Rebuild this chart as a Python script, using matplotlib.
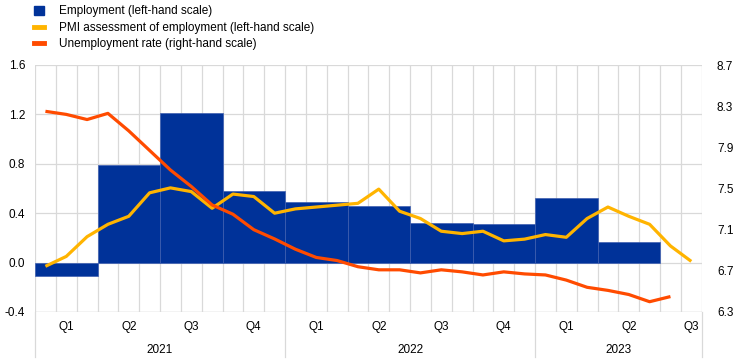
import matplotlib
matplotlib.use('Agg')
import matplotlib.pyplot as plt
import matplotlib.transforms as mtransforms
from matplotlib.patches import Patch
from matplotlib.lines import Line2D

plt.rcParams['font.family'] = ['Liberation Sans', 'DejaVu Sans']

# quarterly employment growth, 2021 Q1 - 2023 Q2 (left-hand scale)
employment = [-0.11, 0.79, 1.21, 0.58, 0.49, 0.46, 0.32, 0.31, 0.52, 0.17]
# monthly PMI assessment of employment, Jan 2021 - Aug 2023 (left-hand scale)
pmi = [-0.03, 0.05, 0.21, 0.31, 0.375, 0.565, 0.605, 0.575, 0.44, 0.555, 0.535, 0.40,
       0.435, 0.45, 0.465, 0.48, 0.595, 0.416, 0.357, 0.254, 0.235, 0.254, 0.176, 0.19,
       0.227, 0.205, 0.357, 0.45, 0.375, 0.31, 0.135, 0.01]
# monthly unemployment rate, Jan 2021 - Jul 2023 (right-hand scale)
unemployment = [8.25, 8.22, 8.17, 8.23, 8.06, 7.87, 7.68, 7.52, 7.34, 7.25, 7.10, 7.01,
                6.91, 6.83, 6.80, 6.74, 6.71, 6.71, 6.68, 6.71, 6.69, 6.66, 6.69, 6.67,
                6.66, 6.61, 6.54, 6.51, 6.47, 6.40, 6.45]
quarter_labels = ['Q1', 'Q2', 'Q3', 'Q4'] * 2 + ['Q1', 'Q2', 'Q3']
years = ['2021', '2022', '2023']

blue = '#003299'
yellow = '#ffb400'
orange = '#ff4b00'
grid = '#d9d9d9'
n_months = 32

fig = plt.figure(figsize=(7.44, 3.61), dpi=100)
ax = fig.add_axes([35 / 744, 1 - 312 / 361, (701.7 - 35) / 744, 247 / 361])

# bars span whole quarters, lines sit mid-month
bar_x = [3 * i for i in range(len(employment))]
ax.bar(bar_x, employment, width=3, align='edge', color=blue,
       edgecolor='#3f5fb0', linewidth=0.5, zorder=2)
ax.plot([m + 0.5 for m in range(len(pmi))], pmi, color=yellow, lw=2.3,
        solid_capstyle='butt', zorder=3)

ax.set_xlim(0, n_months)
ax.set_ylim(-0.4, 1.6)
ax.set_yticks([-0.4, 0.0, 0.4, 0.8, 1.2, 1.6])
ax.set_yticklabels(['-0.4', '0.0', '0.4', '0.8', '1.2', '1.6'])
ax.set_xticks(range(0, n_months + 1))
ax.set_xticklabels([])
ax.grid(True, color=grid, lw=0.9, zorder=0)
ax.set_axisbelow(True)
ax.tick_params(length=0, labelsize=8.5, pad=7, colors='#000000')
for s in ax.spines.values():
    s.set_visible(False)
ax.axhline(-0.4, color=grid, lw=1.0, zorder=1)

ax2 = ax.twinx()
ax2.plot([m + 0.5 for m in range(len(unemployment))], unemployment, color=orange,
         lw=2.3, solid_capstyle='butt', zorder=4)
ax2.set_ylim(6.3, 8.7)
ax2.set_yticks([6.3, 6.7, 7.1, 7.5, 7.9, 8.3, 8.7])
ax2.set_yticklabels(['6.3', '6.7', '7.1', '7.5', '7.9', '8.3', '8.7'])
ax2.tick_params(length=0, labelsize=8.5, pad=11)
for s in ax2.spines.values():
    s.set_visible(False)
ax2.set_xlim(0, n_months)

# category axis: quarter labels, year labels and separators
trans = mtransforms.blended_transform_factory(ax.transData, ax.transAxes)
for i, q in enumerate(quarter_labels):
    ax.text(3 * i + 1.5, -0.061, q, transform=trans, ha='center', va='center',
            fontsize=8.5)
year_edges = [0, 12, 24, n_months]
for i, y in enumerate(years):
    mid = (year_edges[i] + year_edges[i + 1]) / 2
    ax.text(mid, -0.154, y, transform=trans, ha='center', va='center', fontsize=8.5)
for e in year_edges:
    ax.plot([e, e], [0, -0.182], transform=trans, color=grid, lw=0.9, clip_on=False)

handles = [Patch(facecolor=blue, edgecolor=blue),
           Line2D([0], [0], color=yellow, lw=3.5),
           Line2D([0], [0], color=orange, lw=3.5)]
labels = ['Employment (left-hand scale)', 'PMI assessment of employment (left-hand scale)',
          'Unemployment rate (right-hand scale)']
fig.legend(handles, labels, loc='upper left', bbox_to_anchor=(32 / 744, 1 - 3 / 361),
           frameon=False, fontsize=8.5, handlelength=0.8, handleheight=0.8,
           handletextpad=1.3, labelspacing=0.38, borderaxespad=0, borderpad=0.2)

fig.savefig('out.png', dpi=100)
